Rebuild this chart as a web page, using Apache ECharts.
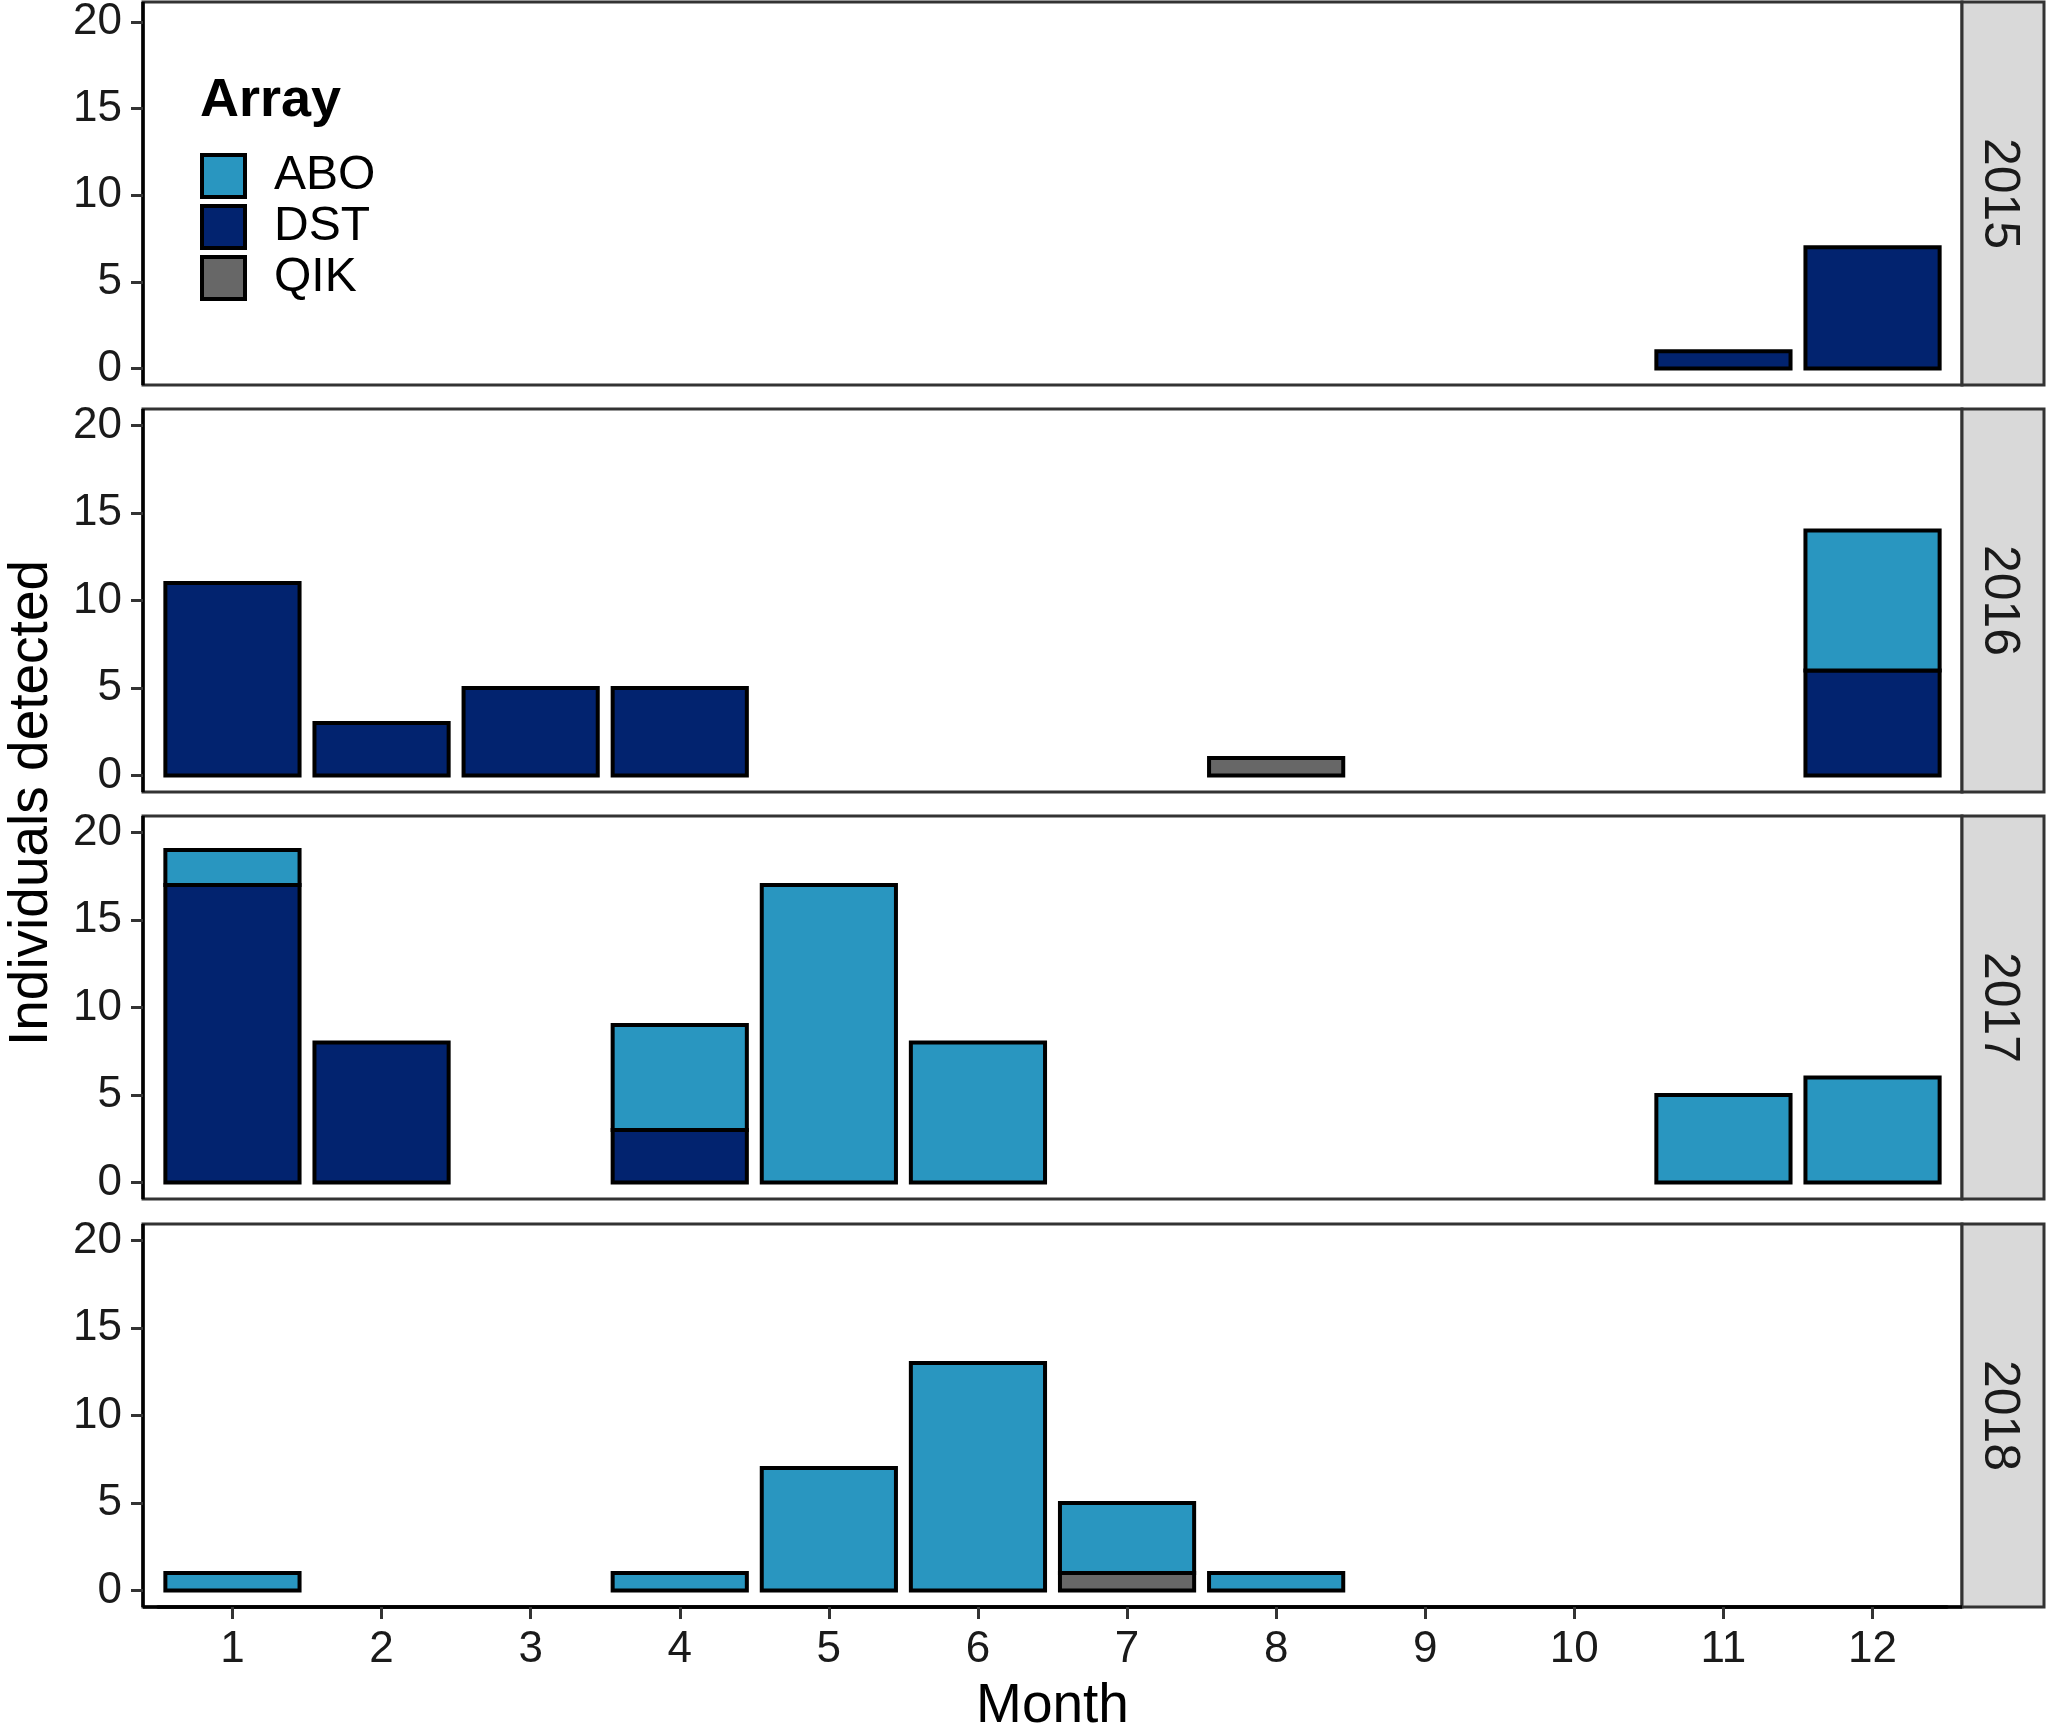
<!DOCTYPE html>
<html lang="en">
<head>
<meta charset="UTF-8">
<title>Individuals detected by month</title>
<script src="https://cdn.jsdelivr.net/npm/echarts@6/dist/echarts.min.js"></script>
<style>html,body{margin:0;padding:0;background:#fff}</style>
</head>
<body>
<div id="main" style="width:2047px;height:1726px"></div>
<script>
// panel years and months
var years = ['2015', '2016', '2017', '2018'];
var months = ['1', '2', '3', '4', '5', '6', '7', '8', '9', '10', '11', '12'];
var yTicks = [0, 5, 10, 15, 20];
var arrays = ['ABO', 'DST', 'QIK'];

// individuals detected per month (0 = no bar)
var abo2015 = [0, 0, 0, 0, 0, 0, 0, 0, 0, 0, 0, 0];
var dst2015 = [0, 0, 0, 0, 0, 0, 0, 0, 0, 0, 1, 7];
var qik2015 = [0, 0, 0, 0, 0, 0, 0, 0, 0, 0, 0, 0];

var abo2016 = [0, 0, 0, 0, 0, 0, 0, 0, 0, 0, 0, 8];
var dst2016 = [11, 3, 5, 5, 0, 0, 0, 0, 0, 0, 0, 6];
var qik2016 = [0, 0, 0, 0, 0, 0, 0, 1, 0, 0, 0, 0];

var abo2017 = [2, 0, 0, 6, 17, 8, 0, 0, 0, 0, 5, 6];
var dst2017 = [17, 8, 0, 3, 0, 0, 0, 0, 0, 0, 0, 0];
var qik2017 = [0, 0, 0, 0, 0, 0, 0, 0, 0, 0, 0, 0];

var abo2018 = [1, 0, 0, 1, 7, 13, 4, 1, 0, 0, 0, 0];
var dst2018 = [0, 0, 0, 0, 0, 0, 0, 0, 0, 0, 0, 0];
var qik2018 = [0, 0, 0, 0, 0, 0, 1, 0, 0, 0, 0, 0];

var counts = {
    ABO: [abo2015, abo2016, abo2017, abo2018],
    DST: [dst2015, dst2016, dst2017, dst2018],
    QIK: [qik2015, qik2016, qik2017, qik2018]
};
var colors = {ABO: '#2996c0', DST: '#02236f', QIK: '#676767'};

var font = 'Liberation Sans, Arial, sans-serif';
var tops = [2, 409, 816, 1224];
var left = 143, plotW = 1819, plotH = 383;
var stripW = 82;
// panel spans months 0.4..12.6, bars are 0.9 wide
var unit = plotW / 12.2;
var pad = unit * 0.1;

var myChart = echarts.init(document.getElementById('main'));

// stacked rectangles, outline centred on the edges like ggplot
function makeRender(color) {
    return function (params, api) {
        var k = api.value(0), v = api.value(1), b = api.value(2);
        var p0 = api.coord([k, b]);
        var p1 = api.coord([k, b + v]);
        var w = api.size([1, 0])[0] * 0.9;
        return {
            type: 'rect',
            shape: {x: p0[0] - w / 2, y: p1[1], width: w, height: p0[1] - p1[1]},
            style: {fill: color, stroke: '#000', lineWidth: 4}
        };
    };
}

var grids = [], xAxes = [], yAxes = [], series = [], graphics = [];

for (var i = 0; i < years.length; i++) {
    var last = i === years.length - 1;
    grids.push({left: left + pad, top: tops[i], width: unit * 12, height: plotH});
    xAxes.push({
        type: 'category', gridIndex: i, data: months, position: 'bottom',
        axisLine: {show: last, onZero: false, lineStyle: {color: '#000', width: 3.5}},
        axisTick: {show: last, alignWithLabel: true, interval: 0, length: 12, lineStyle: {color: '#333', width: 3}},
        axisLabel: {show: last, interval: 0, margin: 21, fontSize: 44, fontFamily: font, color: '#1a1a1a'}
    });
    yAxes.push({
        type: 'value', gridIndex: i, min: -0.95, max: 20.95, offset: pad,
        splitLine: {show: false},
        axisLine: {show: false},
        axisTick: {show: true, length: 12, customValues: yTicks, lineStyle: {color: '#333', width: 3}},
        axisLabel: {customValues: yTicks, margin: 21, fontSize: 44, fontFamily: font, color: '#1a1a1a'}
    });

    // stack bottom to top: QIK, DST, ABO
    var base = [0, 0, 0, 0, 0, 0, 0, 0, 0, 0, 0, 0];
    ['QIK', 'DST', 'ABO'].forEach(function (name) {
        var vals = counts[name][i];
        var data = [];
        vals.forEach(function (v, k) {
            if (v) data.push([k, v, base[k]]);
            base[k] += v;
        });
        series.push({
            name: name, type: 'custom',
            xAxisIndex: i, yAxisIndex: i,
            itemStyle: {color: colors[name], borderColor: '#000', borderWidth: 4},
            encode: {x: 0, y: 1},
            renderItem: makeRender(colors[name]),
            data: data
        });
    });

    // panel frame
    graphics.push({
        type: 'rect', shape: {x: left, y: tops[i], width: plotW, height: plotH},
        style: {fill: null, stroke: '#333', lineWidth: 3}
    });
    graphics.push({
        type: 'line', shape: {x1: left, y1: tops[i], x2: left, y2: tops[i] + plotH},
        style: {stroke: '#000', lineWidth: 3.5}
    });
    // facet strip on the right
    graphics.push({
        type: 'rect', shape: {x: left + plotW, y: tops[i], width: stripW, height: plotH},
        style: {fill: '#d9d9d9', stroke: '#333', lineWidth: 3}
    });
    graphics.push({
        type: 'text', x: left + plotW + 37, y: tops[i] + plotH / 2, rotation: -Math.PI / 2,
        style: {text: years[i], font: '50px ' + font, fill: '#1a1a1a', align: 'center', verticalAlign: 'middle'}
    });
}

// bottom axis line across the whole panel
graphics.push({
    type: 'line', shape: {x1: left, y1: tops[3] + plotH, x2: left + plotW, y2: tops[3] + plotH},
    style: {stroke: '#000', lineWidth: 3.5}
});

graphics.push({
    type: 'text', x: 32, y: 803, rotation: Math.PI / 2,
    style: {text: 'Individuals detected', font: '55px ' + font, fill: '#000', align: 'center', verticalAlign: 'middle'}
});
graphics.push({
    type: 'text', x: left + plotW / 2, y: 1707,
    style: {text: 'Month', font: '55px ' + font, fill: '#000', align: 'center', verticalAlign: 'middle'}
});
graphics.push({
    type: 'text', x: 200, y: 101,
    style: {text: 'Array', font: 'bold 54px ' + font, fill: '#000', align: 'left', verticalAlign: 'middle'}
});

var option = {
    animation: false,
    grid: grids,
    xAxis: xAxes,
    yAxis: yAxes,
    legend: {
        data: arrays, orient: 'vertical', left: 200, top: 152, padding: 0,
        itemWidth: 43, itemHeight: 42, itemGap: 3, icon: 'rect',
        selectedMode: false,
        itemStyle: {borderColor: '#000', borderWidth: 4},
        textStyle: {fontSize: 48, fontFamily: font, color: '#000', padding: [0, 0, 0, 24]}
    },
    series: series,
    graphic: graphics
};
myChart.setOption(option);
</script>
</body>
</html>
